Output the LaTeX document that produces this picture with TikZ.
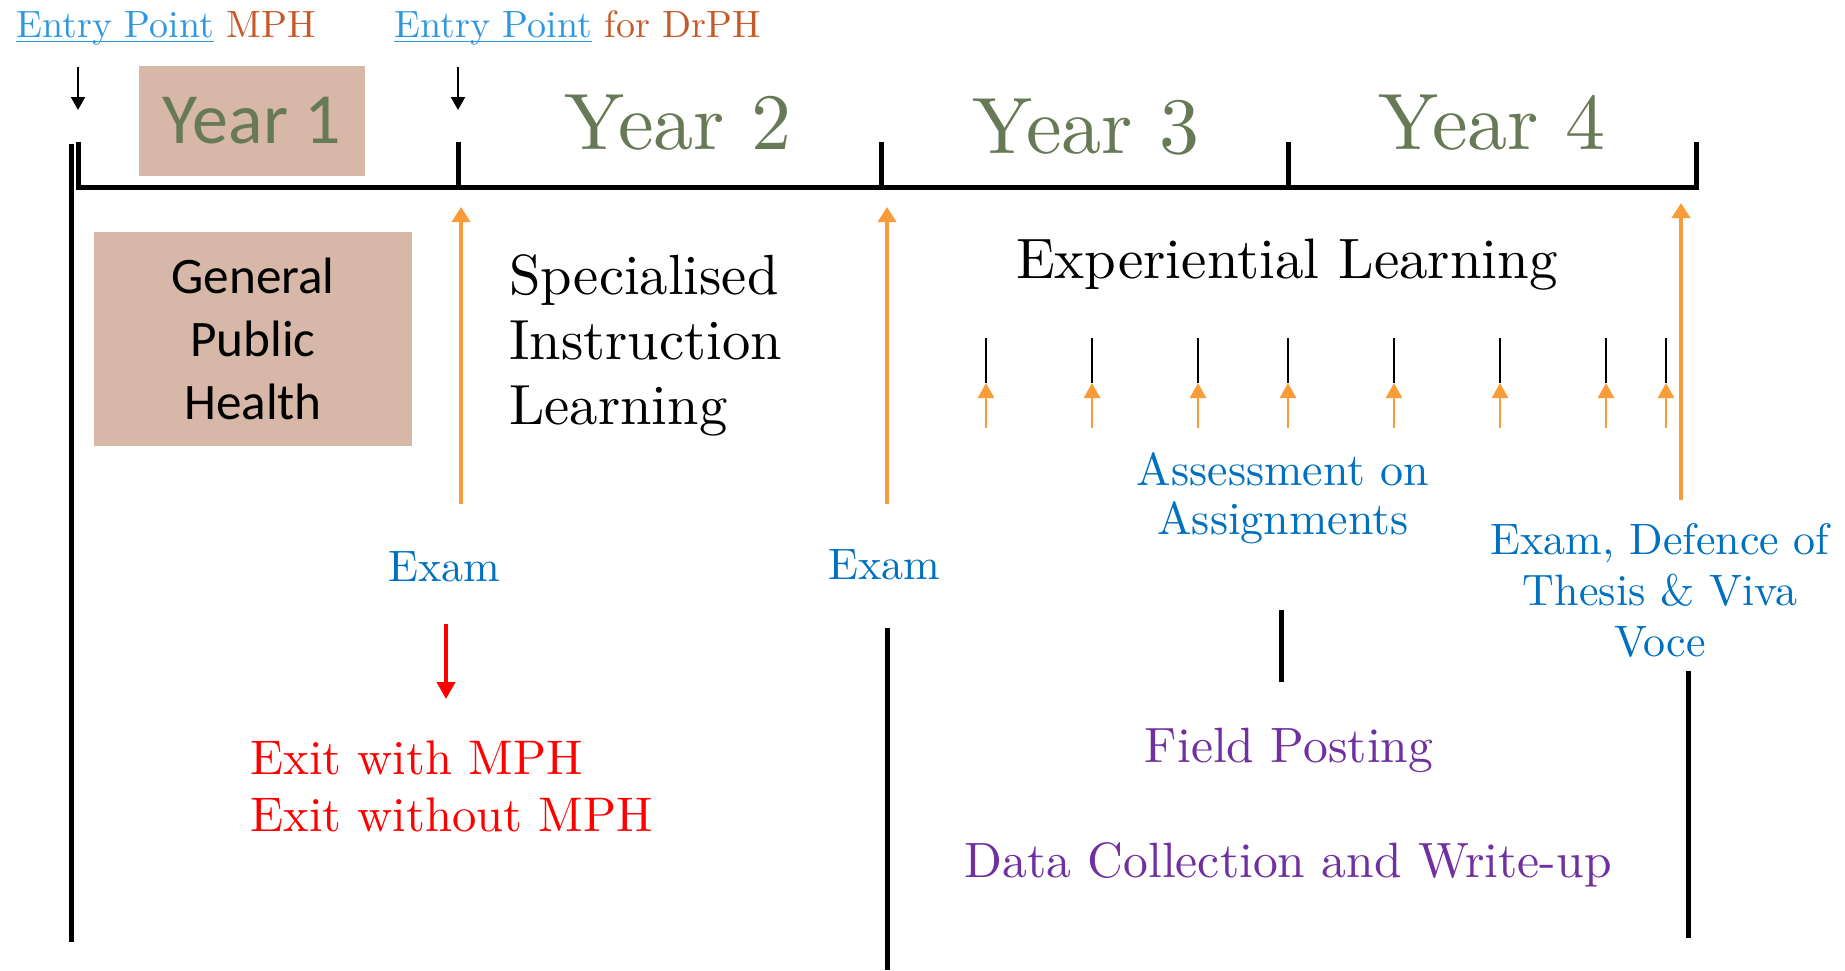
\documentclass[tikz,border=0pt]{standalone}
\usepackage{fontspec}
\setmainfont{lmroman10-regular.otf}
\newfontfamily\calibri{Carlito}
\usetikzlibrary{arrows.meta}
\newcommand{\setfs}[2]{\fontsize{#1pt}{#2pt}\selectfont}
\newcommand{\linkul}[1]{\setbox0\hbox{#1}\rlap{\rule[-2.5pt]{\wd0}{0.6pt}}\box0}
\definecolor{linkblue}{RGB}{46,152,222}
\definecolor{mphbrown}{RGB}{197,90,40}
\definecolor{yeargreen}{RGB}{104,121,86}
\definecolor{boxbrown}{RGB}{214,183,168}
\definecolor{examorange}{RGB}{248,155,56}
\definecolor{examblue}{RGB}{0,112,192}
\definecolor{fieldpurple}{RGB}{112,48,160}
\tikzstyle{txt}=[inner sep=0pt]
\tikzstyle{yearbox}=[fill=boxbrown,inner sep=0pt]
\tikzstyle{bar}=[line width=2.5pt]
\tikzstyle{entryarrow}=[line width=1pt,-{Triangle[width=7pt,length=6.5pt]}]
\tikzstyle{examarrow}=[examorange,line width=2pt,-{Triangle[width=9pt,length=7.5pt]}]
\tikzstyle{subarrow}=[examorange,line width=1.3pt,-{Triangle[width=8pt,length=7.5pt]}]
\tikzstyle{exitarrow}=[red,line width=2pt,-{Triangle[width=9pt,length=8.5pt]}]

\begin{document}
\begin{tikzpicture}[x=0.5pt,y=-0.5pt]
\useasboundingbox (0,0) rectangle (1845,970);
% entry points
\node[txt,anchor=base west,font=\setfs{19}{23}] at (16,37) (mph) {\textcolor{linkblue}{\linkul{Entry Point}} \textcolor{mphbrown}{MPH}};
\node[txt,anchor=base west,font=\setfs{19}{23}] at (394,37) (drph) {\textcolor{linkblue}{\linkul{Entry Point}} \textcolor{mphbrown}{for DrPH}};
% years
\node[yearbox,minimum width=113pt,minimum height=55pt,text=yeargreen,font=\calibri\setfs{36}{40}] at (252,121) (y1) {Year 1};
\node[txt,anchor=base,text=yeargreen,font=\setfs{40}{44}] at (678,149) (y2) {Year 2};
\node[txt,anchor=base,text=yeargreen,font=\setfs{40}{44}] at (1086,153) (y3) {Year 3};
\node[txt,anchor=base,text=yeargreen,font=\setfs{40}{44}] at (1492,149) (y4) {Year 4};
% timeline
\coordinate (t0) at (78,187);
\coordinate (t1) at (458,187);
\coordinate (t2) at (881,187);
\coordinate (t3) at (1288,187);
\coordinate (t4) at (1696,187);
\draw[bar] (78,142) -- (t0) -- (t4) -- ++(0,-45);
\draw[bar] (t1) -- ++(0,-45);
\draw[bar] (t2) -- ++(0,-45);
\draw[bar] (t3) -- ++(0,-45);
\draw[entryarrow] (78,67) -- (78,110);
\draw[entryarrow] (458,67) -- (458,110);
% contents
\node[yearbox,minimum width=159pt,minimum height=107pt,align=center,font=\calibri\setfs{25.6}{31.5}] at (253,339) (gph) {General\\Public\\Health};
\node[txt,anchor=north west,align=left,font=\setfs{28.3}{32.5}] at (509,254) (sil) {Specialised\\Instruction\\Learning};
\node[txt,anchor=base,font=\setfs{28.5}{32}] at (1287,278) (el) {Experiential Learning};
\node[txt,anchor=base,text=examblue,font=\setfs{22}{26}] at (444,581) (exam1) {Exam};
\node[txt,anchor=base,text=examblue,font=\setfs{22}{26}] at (884,579) (exam2) {Exam};
\node[txt,anchor=north,align=center,text=examblue,font=\setfs{23}{24.5}] at (1283,452) (assess) {Assessment on\\Assignments};
\node[txt,anchor=north,align=center,text=examblue,font=\setfs{22}{25.5}] at (1660,523) (viva) {Exam, Defence of\\Thesis \& Viva\\Voce};
\node[txt,anchor=north west,align=left,text=red,font=\setfs{24.3}{28.5}] at (250,740) (exit) {Exit with MPH\\Exit without MPH};
\node[txt,anchor=base,text=fieldpurple,font=\setfs{24.8}{28}] at (1289,762) (field) {Field Posting};
\node[txt,anchor=base,text=fieldpurple,font=\setfs{24.8}{28}] at (1288,877) (data) {Data Collection and Write-up};
% exams
\draw[examarrow] (461,504) -- (461,207);
\draw[examarrow] (887,504) -- (887,207);
\draw[examarrow] (1681,500) -- (1681,203);
\draw[exitarrow] (446,624) -- (446,699);
\foreach \x in {986,1092,1198,1288,1394,1500,1606,1666} {
  \draw[line width=0.9pt] (\x,338) -- (\x,383);
  \draw[subarrow] (\x,428) -- (\x,383);
}
% phases
\draw[bar] (71,144) -- (71,942);
\draw[bar] (887,628) -- (887,970);
\draw[bar] (1281,610) -- (1281,682);
\draw[bar] (1688,671) -- (1688,938);
\end{tikzpicture}
\end{document}
